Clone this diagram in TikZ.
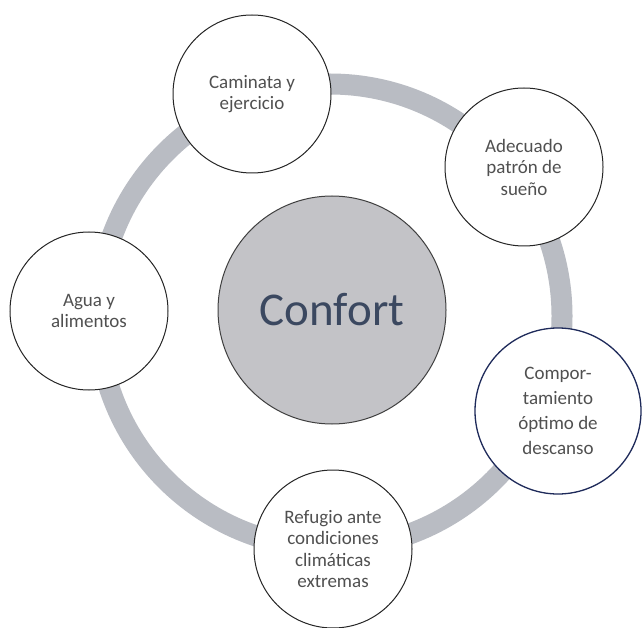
\documentclass[tikz,border=0pt]{standalone}
\usepackage{fontspec}
\setmainfont{Carlito}
\usepackage{tikz}
\usetikzlibrary{positioning}
\definecolor{ringgray}{RGB}{185,188,195}
\definecolor{hubfill}{RGB}{195,195,199}
\definecolor{hubtext}{RGB}{59,72,96}
\definecolor{leaftext}{RGB}{80,80,80}
\definecolor{navyline}{RGB}{30,42,90}

\begin{document}
\begin{tikzpicture}[
    x=1pt, y=-1pt,
    ring/.style={draw=ringgray, line width=21pt},
    hub/.style={circle, draw=black!75, line width=1pt, fill=hubfill, minimum size=228pt, inner sep=0pt,
        text=hubtext, font=\fontsize{47}{56}\selectfont},
    leaf/.style={circle, draw=black!85, line width=1pt, fill=white, minimum size=158pt, inner sep=0pt,
        align=center, text=leaftext, font=\fontsize{19}{21.5}\selectfont}
]
\useasboundingbox[fill=white] (0,0) rectangle (642,628);

\draw[ring] (330,316) circle[radius=232];

\node[hub] (confort) at (332,310) {Confort};

\node[leaf] (caminata) at (252,94) {Caminata y\\ejercicio};
\node[leaf] (sueno) at (524,167) {Adecuado\\patrón de\\sueño};
\node[leaf, draw=navyline, line width=1.3pt, minimum size=166pt,
    font=\fontsize{19}{25}\selectfont] (descanso) at (558,411) {Compor-\\tamiento\\óptimo de\\descanso};
\node[leaf] (refugio) at (333,549) {Refugio ante\\condiciones\\climáticas\\extremas};
\node[leaf] (agua) at (89,311) {Agua y\\alimentos};

\end{tikzpicture}
\end{document}
